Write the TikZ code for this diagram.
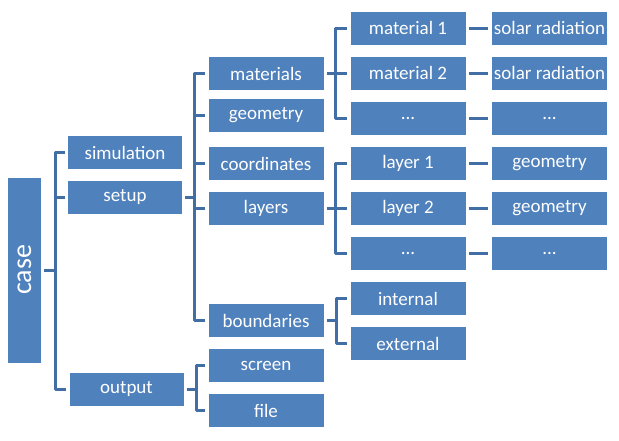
\documentclass[tikz,border=0pt]{standalone}
\usepackage{fontspec}
\setmainfont{Carlito}
\definecolor{boxblue}{RGB}{79,129,189}
\definecolor{linkblue}{RGB}{65,111,165}

\begin{document}
\begin{tikzpicture}[x=1pt, y=-1pt,
    box/.style={fill=boxblue, text=white, inner sep=0pt, minimum width=115pt, minimum height=33pt, font=\fontsize{19}{21}\selectfont},
    link/.style={draw=linkblue, line width=3pt, line join=round}]
    % 1. Vùng hiển thị
    \useasboundingbox (0,0) rectangle (619,440);

    % 2. Cột gốc
    \node[box, minimum width=33pt, minimum height=185pt] (case) at (24.5,270) {\rotatebox{90}{\fontsize{28}{30}\selectfont case}};

    % 3. Cột thứ hai
    \node[box, minimum width=114pt] (sim) at (125,152.5) {simulation};
    \node[box, minimum width=114pt] (setup) at (125,197.5) {setup};
    \node[box, minimum width=114pt] (output) at (126.5,389) {output};

    % 4. Cột thứ ba
    \node[box] (mats) at (266,73.5) {materials};
    \node[box] (geom) at (266,115.5) {geometry};
    \node[box] (coords) at (266,163.5) {coordinates};
    \node[box] (layers) at (266,208.5) {layers};
    \node[box] (bounds) at (266,320.5) {boundaries};
    \node[box] (screen) at (266,365.5) {screen};
    \node[box] (file) at (266,410.5) {file};

    % 5. Cột thứ tư
    \node[box] (mat1) at (408,28) {material 1};
    \node[box] (mat2) at (408,73) {material 2};
    \node[box] (matx) at (408,118) {...};
    \node[box] (lay1) at (408,163.5) {layer 1};
    \node[box] (lay2) at (408,208.5) {layer 2};
    \node[box] (layx) at (408,253.5) {...};
    \node[box] (inner) at (408,298.5) {internal};
    \node[box] (outer) at (408,343.5) {external};

    % 6. Cột thứ năm
    \node[box] (sol1) at (549.5,28) {solar radiation};
    \node[box] (sol2) at (549.5,73) {solar radiation};
    \node[box] (solx) at (549.5,118) {...};
    \node[box] (geo1) at (549.5,163.5) {geometry};
    \node[box] (geo2) at (549.5,208.5) {geometry};
    \node[box] (geox) at (549.5,253.5) {...};

    % 7. Đường nối
    % case
    \draw[link] ([xshift=3pt]case.east) -- ++(11,0) coordinate (bcase);
    \draw[link] (bcase) |- ([xshift=-3pt]sim.west);
    \draw[link] (bcase) |- ([xshift=-3pt]setup.west);
    \draw[link] (bcase) |- ([xshift=-3pt]output.west);
    % setup
    \draw[link] ([xshift=3pt]setup.east) -- ++(9,0) coordinate (bsetup);
    \foreach \n in {mats,geom,coords,layers,bounds}
        \draw[link] (bsetup) |- ([xshift=-3pt]\n.west);
    % output
    \draw[link] ([xshift=3pt]output.east) -- ++(10,0) coordinate (bout);
    \draw[link] (bout) |- ([xshift=-3pt]screen.west);
    \draw[link] (bout) |- ([xshift=-3pt]file.west);
    % materials
    \draw[link] ([xshift=3pt]mats.east) -- ++(9,0) coordinate (bmats);
    \foreach \n in {mat1,mat2,matx}
        \draw[link] (bmats) |- ([xshift=-3pt]\n.west);
    % layers
    \draw[link] ([xshift=3pt]layers.east) -- ++(9,0) coordinate (blay);
    \foreach \n in {lay1,lay2,layx}
        \draw[link] (blay) |- ([xshift=-3pt]\n.west);
    % boundaries
    \draw[link] ([xshift=3pt]bounds.east) -- ++(10,0) coordinate (bbnd);
    \draw[link] (bbnd) |- ([xshift=-3pt]inner.west);
    \draw[link] (bbnd) |- ([xshift=-3pt]outer.west);
    % cột cuối
    \foreach \a/\b in {mat1/sol1,mat2/sol2,matx/solx,lay1/geo1,lay2/geo2,layx/geox}
        \draw[link] ([xshift=3pt]\a.east) -- ([xshift=-4pt]\b.west);
\end{tikzpicture}
\end{document}
